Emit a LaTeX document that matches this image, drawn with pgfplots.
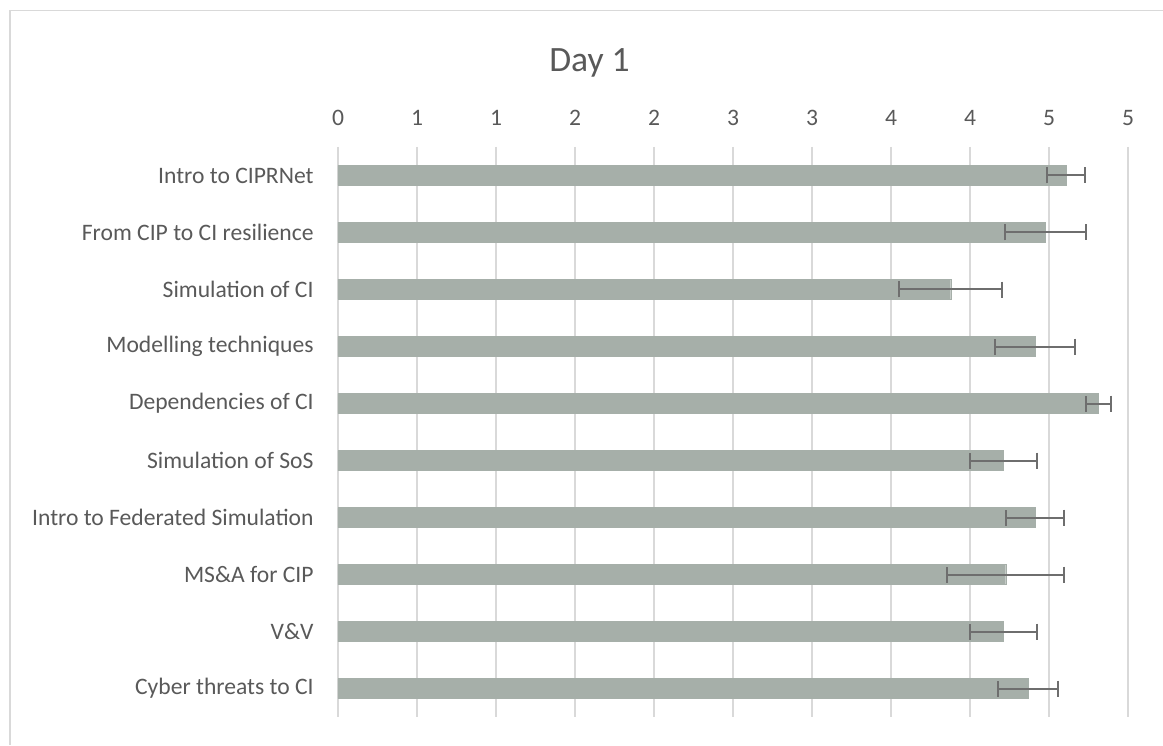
\documentclass[border=0pt]{standalone}
\usepackage{pgfplots}
\pgfplotsset{compat=1.18}
\usepackage{fontspec}
\setmainfont{Carlito}
\definecolor{barc}{RGB}{166,175,169}
\definecolor{errc}{RGB}{110,110,110}
\definecolor{gridc}{RGB}{217,217,217}
\definecolor{txt}{RGB}{89,89,89}
\begin{document}
\begin{tikzpicture}
\useasboundingbox (0,0) rectangle (581.5pt,372.5pt);
\draw[gridc, line width=0.7pt] (5pt,0) -- (5pt,367.35pt) -- (581.5pt,367.35pt);
\node[anchor=base, text=txt, font=\fontsize{17.8}{20}\selectfont] at (294.75pt,336.5pt) {Day 1};
\begin{axis}[
  at={(169pt,14pt)}, anchor=south west,
  scale only axis, width=395pt, height=285pt,
  xmin=0, xmax=5, ymin=-0.5, ymax=9.5,
  y dir=reverse,
  xbar, bar width=10pt,
  axis line style={draw=none},
  major tick length=0pt,
  xtick={0,0.5,1,1.5,2,2.5,3,3.5,4,4.5,5},
  xticklabels={0,1,1,2,2,3,3,4,4,5,5},
  xticklabel pos=top,
  xmajorgrids, grid style={gridc, line width=0.8pt},
  ytick={0,...,9},
  yticklabels={Intro to CIPRNet, From CIP to CI resilience, Simulation of CI, Modelling techniques, Dependencies of CI, Simulation of SoS, Intro to Federated Simulation, MS\&A for CIP, V\&V, Cyber threats to CI},
  ticklabel style={text=txt, font=\fontsize{11.8}{14}\selectfont},
  xticklabel style={anchor=base, yshift=10.5pt},
  yticklabel style={anchor=east, inner sep=0pt, xshift=-12pt},
]
\addplot[fill=barc, draw=barc, line width=0.2pt,
  error bars/.cd, x dir=both, x explicit,
  error mark=|,
  error bar style={color=errc, line width=1pt},
  error mark options={color=errc, line width=1pt, mark size=4pt, rotate=0}]
  coordinates {
  (4.61,0) +- (0.12,0)
  (4.477,1) +- (0.257,0)
  (3.878,2) +- (0.326,0)
  (4.411,3) +- (0.254,0)
  (4.812,4) +- (0.08,0)
  (4.209,5) +- (0.212,0)
  (4.411,6) +- (0.184,0)
  (4.226,7) +- (0.37,0)
  (4.209,8) +- (0.212,0)
  (4.367,9) +- (0.187,0)
  };
\end{axis}
\end{tikzpicture}
\end{document}
